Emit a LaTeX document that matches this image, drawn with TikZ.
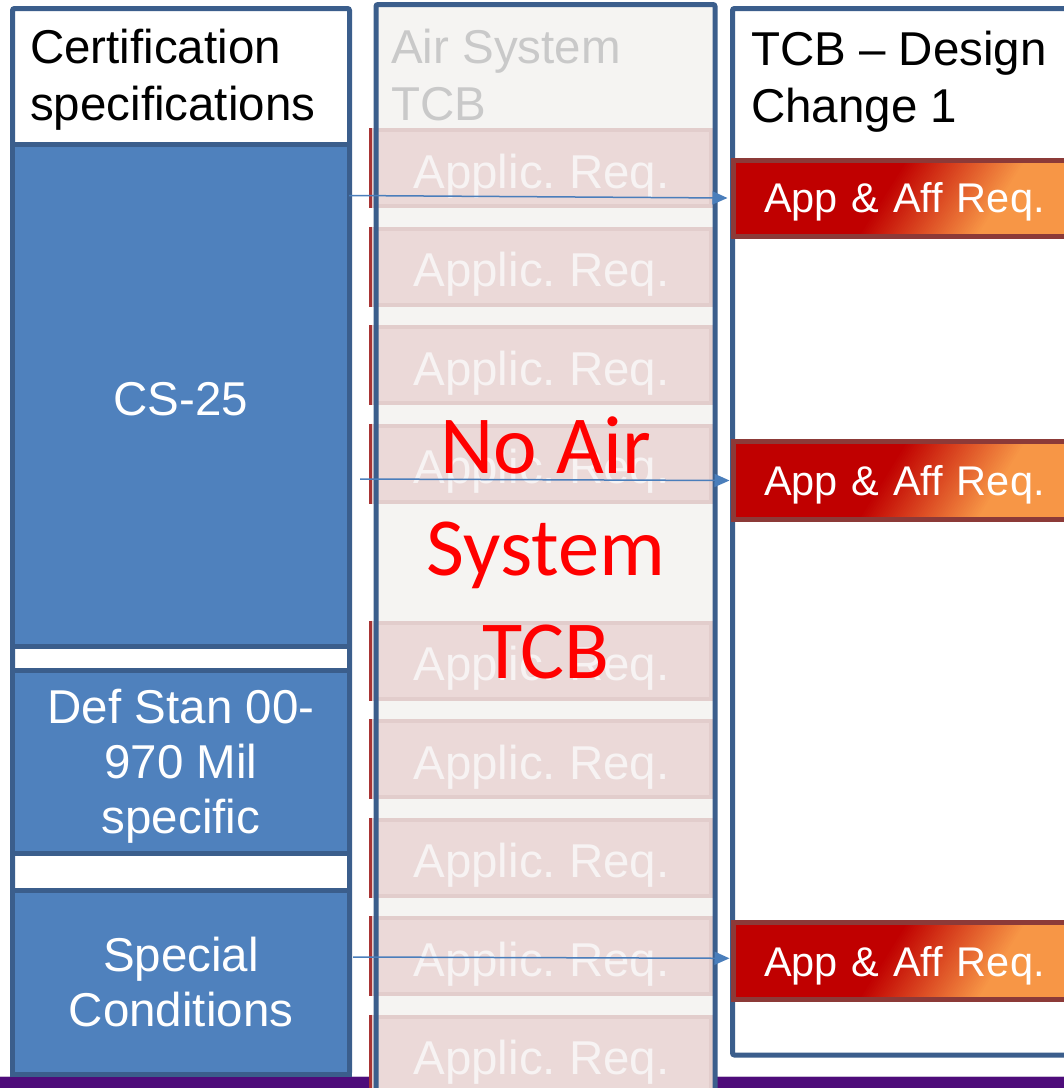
\documentclass[tikz,border=0pt]{standalone}
\usepackage{fontspec}
\setmainfont{Liberation Sans}
\newfontfamily\calibrifont{Carlito}
\usetikzlibrary{arrows.meta,calc}
\frenchspacing

\definecolor{frameblue}{HTML}{3B5E8C}
\definecolor{boxblue}{HTML}{4F81BD}
\definecolor{colbg}{HTML}{F5F4F2}
\definecolor{rowfill}{HTML}{EBD9D8}
\definecolor{rowline}{HTML}{E2CDCC}
\definecolor{rowtext}{HTML}{F7F3F3}
\definecolor{rowedge}{HTML}{A83434}
\definecolor{headgray}{HTML}{C9C9C9}
\definecolor{appred}{HTML}{C00000}
\definecolor{apporange}{HTML}{F79646}
\definecolor{appedge}{HTML}{8C3A38}
\definecolor{arrowblue}{HTML}{4A7EBB}
\definecolor{footpurple}{HTML}{4E0C7A}
\definecolor{footline}{HTML}{C9BCD6}

\tikzset{
  bigtext/.style={font=\fontsize{47.5}{55}\selectfont},
  colframe/.style={draw=frameblue, line width=5pt, rounded corners=2pt, inner sep=0pt},
  specbox/.style={draw=frameblue, fill=boxblue, line width=5pt, inner sep=0pt,
    minimum width=337pt, text=white, bigtext},
  spectext/.style={text=white, bigtext, align=center, inner sep=0pt, anchor=base},
  headtext/.style={text=black, inner sep=0pt, anchor=base west, align=left,
    font=\fontsize{47.5}{57}\selectfont},
  rowbox/.style={fill=rowfill, draw=rowline, line width=4pt, inner sep=0pt,
    minimum width=339pt, minimum height=76pt, text=rowtext, bigtext,
    text height=40pt, text depth=0pt},
  appbox/.style={draw=appedge, line width=5pt, anchor=west, inner ysep=0pt,
    inner xsep=31pt, minimum width=370pt, text width=308pt, align=left,
    text=white, font=\fontsize{41.5}{48}\selectfont, text height=29.8pt, text depth=0pt,
    path picture={
      \fill[appred] (path picture bounding box.north west)
        rectangle (path picture bounding box.south east);
      \foreach \k in {0,...,50}{
        \pgfmathsetmacro\gmix{2*\k}
        \fill[apporange!\gmix!appred]
          ([xshift={172+2.4*\k}]path picture bounding box.north west) --
          ([xshift=300]path picture bounding box.north east) --
          ([xshift=300]path picture bounding box.south east) --
          ([xshift={124+2.4*\k}]path picture bounding box.south west) -- cycle;
      }
    }},
  flow/.style={draw=arrowblue, line width=1.5pt,
    -{Triangle[length=15pt,width=13pt]}}
}

\begin{document}
\begin{tikzpicture}[x=1pt, y=-1pt]
\useasboundingbox (0,0) rectangle (1064,1088);
\clip (0,0) rectangle (1064,1088);
\fill[white] (0,0) rectangle (1064,1088);

% footer band
\fill[footpurple] (0,1076.5) rectangle (1064,1090);
\draw[footline, line width=1pt] (0,1076) -- (1064,1076);

% left column: certification specifications
\node[colframe, fill=white, minimum width=337pt, minimum height=1065.5pt]
  (leftcol) at (181,541.25) {};
\node[headtext] (lefthead) at (30,120) {Certification\\specifications};
\node[specbox, minimum height=501.5pt, text height=39.5pt, text depth=0pt]
  (cs25) at (181,395.25) {CS-25};
\node[specbox, minimum height=182.5pt] (defstan) at (181,761.75) {};
\node[spectext] (defstantext) at (181,833.3) {Def Stan 00-\\970 Mil\\specific};
\node[specbox, minimum height=183.5pt] (special) at (181,982.25) {};
\node[spectext] (specialtext) at (181,1026.7) {Special\\Conditions};

% right column: design change
\node[colframe, fill=white, minimum width=367.5pt, minimum height=1046.5pt]
  (rightcol) at (916.25,531.75) {};
\node[headtext] (righthead) at (751,122) {TCB -- Design\\Change 1};
\node[appbox, minimum height=76pt] (app1) at (730.5,198) {App \& Aff Req.};
\node[appbox, minimum height=78pt] (app2) at (730.5,480.5) {App \& Aff Req.};
\node[appbox, minimum height=77pt] (app3) at (730.5,961.3) {App \& Aff Req.};

% middle column: air system type certification basis
\fill[colbg] (376,4.5) rectangle (715,1100);
\foreach \k in {0,1,2,3,5,6,7,8,9}{
  \node[rowbox] (row\k) at (541.5,{168+98.5*\k}) {Applic. Req.};
  \draw[rowedge, line width=3pt] (row\k.north west) -- (row\k.south west);
}
\node[headtext, text=headgray] (midhead) at (391,120) {Air System\\TCB};
\node[colframe, minimum width=339pt, minimum height=1095.5pt]
  (midcol) at (545.5,552.25) {};

% requirement flows
\coordinate (s1) at (349,195.5);
\coordinate (s2) at (360,479);
\coordinate (s3) at (353,957);
\draw[flow] (s1) -- ([xshift=-3pt]app1.west);
\draw[flow] (s2) -- ([xshift=-1pt]app2.west);
\draw[flow] (s3) -- ([xshift=-1pt,yshift=3pt]app3.west);

% overlay note
\node[text=red, anchor=base, align=center, inner sep=0pt,
  font=\calibrifont\fontsize{82.5}{102.5}\selectfont]
  (noair) at (546,678) {No Air\\System\\TCB};
\end{tikzpicture}
\end{document}
